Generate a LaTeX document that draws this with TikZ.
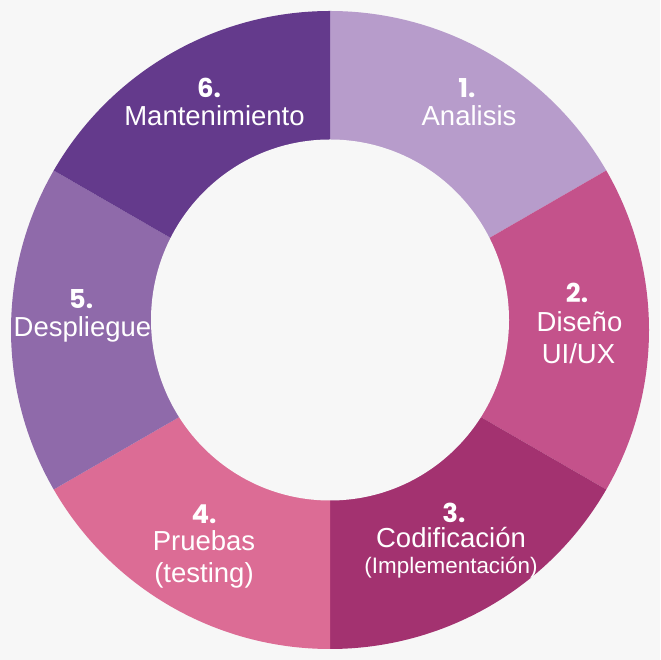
\documentclass[tikz,border=0pt]{standalone}
\usepackage{fontspec}
\setmainfont{Liberation Sans}
\newfontfamily\numfont{Poppins}
\definecolor{bgc}{HTML}{F7F7F7}
\definecolor{segA}{HTML}{B79CCB}
\definecolor{segB}{HTML}{C4528B}
\definecolor{segC}{HTML}{A33270}
\definecolor{segD}{HTML}{DC6C95}
\definecolor{segE}{HTML}{8F6AAA}
\definecolor{segF}{HTML}{643A8C}
\begin{document}
\begin{tikzpicture}[x=1pt,y=1pt,
  num/.style={font=\numfont\bfseries\fontsize{26}{26}\selectfont, text=white, anchor=base, inner sep=0pt, text height=18pt, text depth=0pt},
  lbl/.style={font=\fontsize{27.5}{27.5}\selectfont, text=white, anchor=base, inner sep=0pt, text height=20pt, text depth=6pt},
  sublbl/.style={font=\fontsize{22.4}{22.4}\selectfont, text=white, anchor=base, inner sep=0pt, text height=16pt, text depth=5pt}]
% canvas
\fill[bgc] (0,0) rectangle (660,660);
\useasboundingbox (0,0) rectangle (660,660);
% ring of six equal sectors
\begin{scope}[shift={(330,330)}]
  \fill[segA] (0,0) -- (90:319) arc[start angle=90, end angle=30, radius=319pt] -- cycle;
  \fill[segB] (0,0) -- (30:319) arc[start angle=30, end angle=-30, radius=319pt] -- cycle;
  \fill[segC] (0,0) -- (-30:319) arc[start angle=-30, end angle=-90, radius=319pt] -- cycle;
  \fill[segD] (0,0) -- (-90:319) arc[start angle=-90, end angle=-150, radius=319pt] -- cycle;
  \fill[segE] (0,0) -- (-150:319) arc[start angle=-150, end angle=-210, radius=319pt] -- cycle;
  \fill[segF] (0,0) -- (150:319) arc[start angle=150, end angle=90, radius=319pt] -- cycle;
  % hole
  \fill[bgc] (0,10) ellipse[x radius=179pt, y radius=180.5pt];
\end{scope}
% labels
\node[num] (n1) at (467,562) {1.};
\node[lbl] (t1) at (469,534) {Analisis};
\node[num] (n2) at (577,357) {2.};
\node[lbl] (t2a) at (579.5,328) {Diseño};
\node[lbl] (t2b) at (578.5,296) {UI/UX};
\node[num] (n3) at (454,137) {3.};
\node[lbl] (t3a) at (451,112) {Codificación};
\node[sublbl] (t3b) at (451,86) {(Implementación)};
\node[num] (n4) at (204,136) {4.};
\node[lbl] (t4a) at (204,109) {Pruebas};
\node[lbl] (t4b) at (204,77) {(testing)};
\node[num] (n5) at (81,351) {5.};
\node[lbl] (t5) at (82.5,323) {Despliegue};
\node[num] (n6) at (209,562) {6.};
\node[lbl] (t6) at (214.5,534) {Mantenimiento};
\end{tikzpicture}
\end{document}
